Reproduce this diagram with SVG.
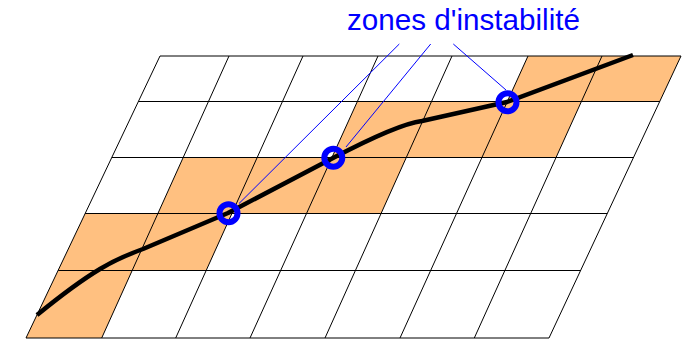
<svg xmlns="http://www.w3.org/2000/svg" width="689" height="341" viewBox="0 0 689 341">
<style>
.cell{fill:#FFC080;stroke:none}
.grid{stroke:#000;stroke-width:1;fill:none}
.curve{stroke:#000;stroke-width:4.5;fill:none;stroke-linejoin:round;stroke-linecap:butt}
.ring{fill:none;stroke:#0000FF;stroke-width:6}
.lead{stroke:#0000FF;stroke-width:1;fill:none}
.label{font-family:"Liberation Sans",Arial,sans-serif;font-size:29px;fill:#0000FF}
</style>
<rect width="689" height="341" fill="#fff"/>
<g id="cells">
<polygon class="cell" points="528,56 681,56 659.9,101 507.6,101"/>
<polygon class="cell" points="357.6,101 581.6,101 556.1,157.3 332,157.3"/>
<polygon class="cell" points="183.3,157.3 406.4,157.3 381,213.7 157.8,213.7"/>
<polygon class="cell" points="85.1,213.7 231.8,213.7 206.3,270.3 58.2,270.3"/>
<polygon class="cell" points="58.2,270.3 132.3,270.3 101.7,338 26,338"/>
</g>
<g id="grid" class="grid">
<line x1="160" y1="56" x2="681" y2="56"/>
<line x1="138.6" y1="101.5" x2="659.9" y2="101.5"/>
<line x1="111.9" y1="157.5" x2="633.6" y2="157.5"/>
<line x1="85.1" y1="213.5" x2="607.2" y2="213.5"/>
<line x1="58.2" y1="270.5" x2="580.7" y2="270.5"/>
<line x1="26" y1="338" x2="549" y2="338"/>
<line x1="160" y1="56" x2="26" y2="338"/>
<line x1="229" y1="56" x2="101.7" y2="338"/>
<line x1="303" y1="56" x2="175.7" y2="338"/>
<line x1="378" y1="56" x2="250" y2="338"/>
<line x1="452" y1="56" x2="325" y2="338"/>
<line x1="528" y1="56" x2="400" y2="338"/>
<line x1="602" y1="56" x2="474.3" y2="338"/>
<line x1="681" y1="56" x2="549" y2="338"/>
</g>
<g id="curve">
<path class="curve" d="M37,315 Q75,284 100,269 Q118,258 143,249 L228,213 L333,158 Q398,124 422,121 L507,102 L633,55"/>
</g>
<g id="connectors">
<line class="lead" x1="399.3" y1="44" x2="239" y2="203.5"/>
<line class="lead" x1="430.7" y1="44" x2="346" y2="147"/>
<line class="lead" x1="453.3" y1="44" x2="506" y2="90"/>
</g>
<g id="zone1"><circle class="ring" cx="228.5" cy="213.3" r="9"/></g>
<g id="zone2"><circle class="ring" cx="333.3" cy="157.7" r="9"/></g>
<g id="zone3"><circle class="ring" cx="507.5" cy="102.3" r="9"/></g>
<g id="label">
<text class="label" x="347" y="30" textLength="233" lengthAdjust="spacingAndGlyphs">zones d'instabilité</text>
</g>
</svg>
